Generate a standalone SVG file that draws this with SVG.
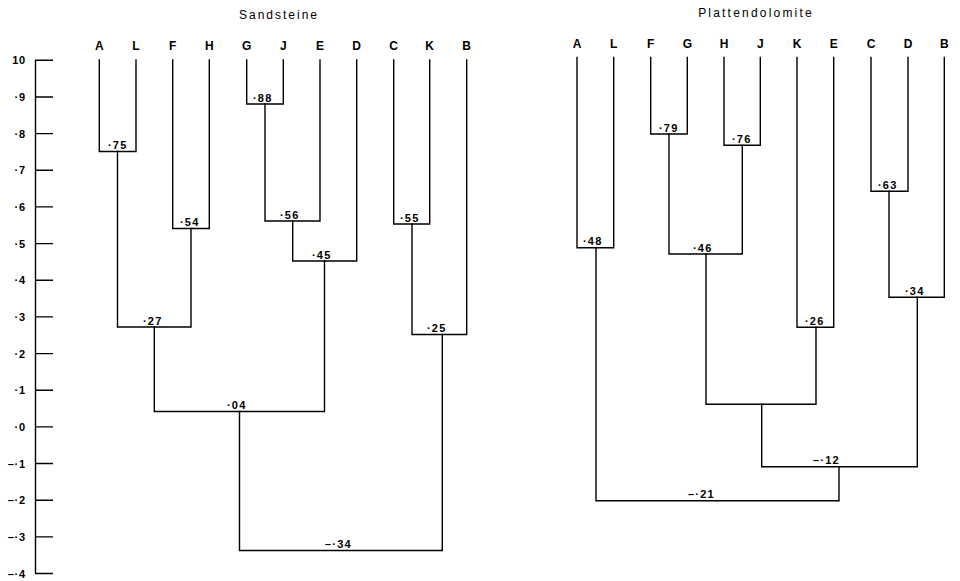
<svg xmlns="http://www.w3.org/2000/svg" width="960" height="581" viewBox="0 0 960 581">
<style>
.ln{fill:none;stroke:#000;stroke-width:1.4;stroke-linecap:square;stroke-linejoin:miter}
.ax{fill:none;stroke:#000;stroke-width:1.4}
.leaf{font-family:"Liberation Sans",Arial,sans-serif;font-size:12px;font-weight:bold;text-anchor:middle;fill:#000}
.num{font-family:"Liberation Sans",Arial,sans-serif;font-size:11px;font-weight:bold;letter-spacing:1.2px;fill:#000}
.axl{font-family:"Liberation Sans",Arial,sans-serif;font-size:11px;font-weight:bold;letter-spacing:0.8px;text-anchor:end;fill:#000}
.title{font-family:"Liberation Sans",Arial,sans-serif;font-size:12px;letter-spacing:2px;text-anchor:middle;fill:#000}
</style>
<rect width="960" height="581" fill="#fff"/>

<g id="axis">
<path class="ax" d="M35.5,60 V573.5 M35,60.3 H53 M35,97 H53 M35,133.6 H53 M35,170.3 H53 M35,206.9 H53 M35,243.6 H53 M35,280.3 H53 M35,316.9 H53 M35,353.6 H53 M35,390.2 H53 M35,426.9 H53 M35,463.5 H53 M35,500.2 H53 M35,536.9 H53 M35,573.5 H53"/>
<text class="axl" x="26" y="64.3">10</text>
<text class="axl" x="26" y="101">·9</text>
<text class="axl" x="26" y="137.6">·8</text>
<text class="axl" x="26" y="174.3">·7</text>
<text class="axl" x="26" y="210.9">·6</text>
<text class="axl" x="26" y="247.6">·5</text>
<text class="axl" x="26" y="284.3">·4</text>
<text class="axl" x="26" y="320.9">·3</text>
<text class="axl" x="26" y="357.6">·2</text>
<text class="axl" x="26" y="394.2">·1</text>
<text class="axl" x="26" y="430.9">·0</text>
<text class="axl" x="26" y="467.5">–·1</text>
<text class="axl" x="26" y="504.2">–·2</text>
<text class="axl" x="26" y="540.9">–·3</text>
<text class="axl" x="26" y="577.5">–·4</text>
</g>

<text class="title" x="279" y="19">Sandsteine</text>
<text class="title" x="756" y="17" style="letter-spacing:2.2px">Plattendolomite</text>

<g id="connectors">
<path class="ln" d="M99.3,60 V151.5 H136 V60"/>
<path class="ln" d="M172.7,60 V228.5 H209.3 V60"/>
<path class="ln" d="M246.7,60 V104 H283.3 V60"/>
<path class="ln" d="M393.7,60 V224 H429.7 V60"/>
<path class="ln" d="M265,104 V221 H320 V60"/>
<path class="ln" d="M292.7,221 V261 H356.7 V60"/>
<path class="ln" d="M117.5,151.5 V327 H191 V228.5"/>
<path class="ln" d="M154.3,327 V411.5 H324.5 V261"/>
<path class="ln" d="M412,224 V334.5 H466.7 V60"/>
<path class="ln" d="M239.5,411.5 V550.5 H442.3 V334.5"/>

<path class="ln" d="M577,57.5 V247.7 H613.7 V57.5"/>
<path class="ln" d="M650.7,57.5 V134 H687.3 V57.5"/>
<path class="ln" d="M724,57.5 V145.3 H760.3 V57.5"/>
<path class="ln" d="M669,134 V254 H742.3 V145.3"/>
<path class="ln" d="M797,57.5 V327.3 H833.7 V57.5"/>
<path class="ln" d="M706,254 V404.3 H816 V327.3"/>
<path class="ln" d="M871,57.5 V191.3 H908 V57.5"/>
<path class="ln" d="M889,191.3 V297.3 H944.3 V57.5"/>
<path class="ln" d="M761.7,404.3 V466.7 H917.3 V297.3"/>
<path class="ln" d="M596,247.7 V500.7 H839 V466.7"/>
</g>

<g id="sandsteine-leaves">
<g id="s-A"><text class="leaf" x="99.3" y="49.5">A</text></g>
<g id="s-L"><text class="leaf" x="136" y="49.5">L</text></g>
<g id="s-F"><text class="leaf" x="172.7" y="49.5">F</text></g>
<g id="s-H"><text class="leaf" x="209.3" y="49.5">H</text></g>
<g id="s-G"><text class="leaf" x="246.7" y="49.5">G</text></g>
<g id="s-J"><text class="leaf" x="283.3" y="49.5">J</text></g>
<g id="s-E"><text class="leaf" x="320" y="49.5">E</text></g>
<g id="s-D"><text class="leaf" x="356.7" y="49.5">D</text></g>
<g id="s-C"><text class="leaf" x="393.7" y="49.5">C</text></g>
<g id="s-K"><text class="leaf" x="429.7" y="49.5">K</text></g>
<g id="s-B"><text class="leaf" x="466.7" y="49.5">B</text></g>
</g>

<g id="sandsteine-merges">
<g id="s-AL"><text class="num" x="108" y="149">·75</text></g>
<g id="s-GJ"><text class="num" x="253" y="101.5">·88</text></g>
<g id="s-FH"><text class="num" x="180" y="226">·54</text></g>
<g id="s-ALFH"><text class="num" x="143" y="324.5">·27</text></g>
<g id="s-GJE"><text class="num" x="280" y="218.5">·56</text></g>
<g id="s-GJED"><text class="num" x="312" y="258.5">·45</text></g>
<g id="s-CK"><text class="num" x="400" y="221.5">·55</text></g>
<g id="s-CKB"><text class="num" x="427" y="332">·25</text></g>
<g id="s-left"><text class="num" x="227" y="409">·04</text></g>
<g id="s-root"><text class="num" x="325" y="548">–·34</text></g>
</g>

<g id="plattendolomite-leaves">
<g id="p-A"><text class="leaf" x="577" y="47.5">A</text></g>
<g id="p-L"><text class="leaf" x="613.7" y="47.5">L</text></g>
<g id="p-F"><text class="leaf" x="650.7" y="47.5">F</text></g>
<g id="p-G"><text class="leaf" x="687.3" y="47.5">G</text></g>
<g id="p-H"><text class="leaf" x="724" y="47.5">H</text></g>
<g id="p-J"><text class="leaf" x="760.3" y="47.5">J</text></g>
<g id="p-K"><text class="leaf" x="797" y="47.5">K</text></g>
<g id="p-E"><text class="leaf" x="833.7" y="47.5">E</text></g>
<g id="p-C"><text class="leaf" x="871" y="47.5">C</text></g>
<g id="p-D"><text class="leaf" x="908" y="47.5">D</text></g>
<g id="p-B"><text class="leaf" x="944.3" y="47.5">B</text></g>
</g>

<g id="plattendolomite-merges">
<g id="p-AL"><text class="num" x="583" y="245">·48</text></g>
<g id="p-FG"><text class="num" x="659" y="131.5">·79</text></g>
<g id="p-HJ"><text class="num" x="732" y="142.5">·76</text></g>
<g id="p-FGHJ"><text class="num" x="693" y="251.5">·46</text></g>
<g id="p-KE"><text class="num" x="805" y="324.5">·26</text></g>
<g id="p-CD"><text class="num" x="878" y="188.5">·63</text></g>
<g id="p-CDB"><text class="num" x="905" y="294.5">·34</text></g>
<g id="p-right"><text class="num" x="813" y="464">–·12</text></g>
<g id="p-root"><text class="num" x="688" y="498">–·21</text></g>
</g>
</svg>
